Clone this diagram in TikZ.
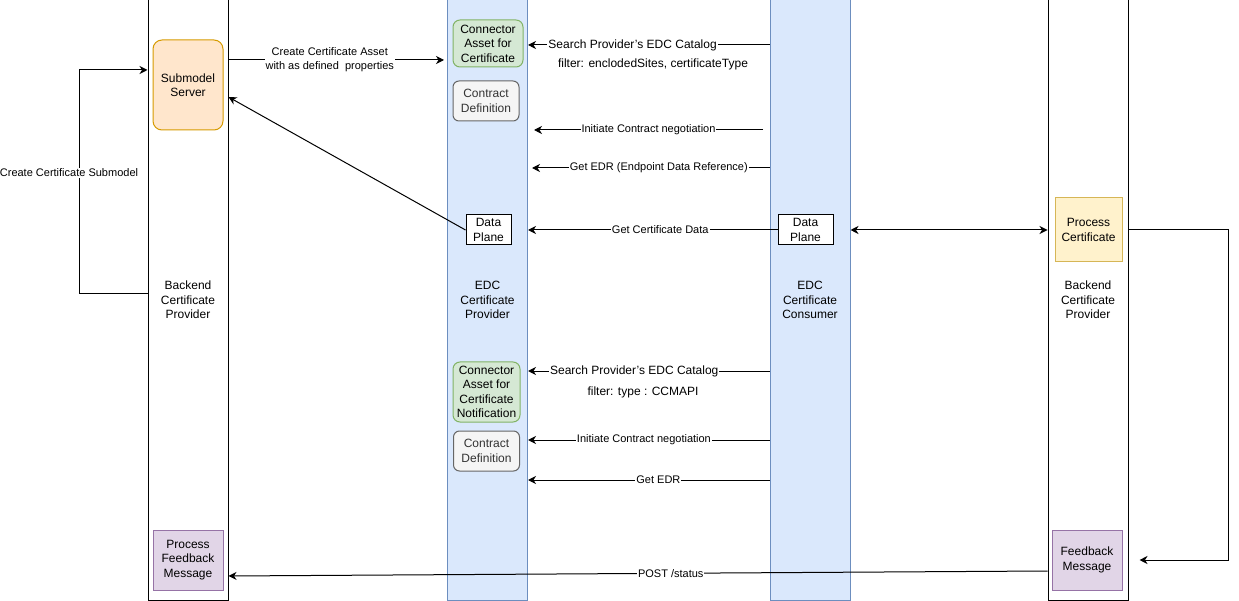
\documentclass[tikz,border=0pt]{standalone}
\usepackage{fontspec}
\setmainfont{Liberation Sans}
\usepackage{xcolor}
\usepackage{tikz}
\usetikzlibrary{arrows.meta, positioning, calc}

\definecolor{edcfill}{HTML}{DAE8FC}
\definecolor{edcdraw}{HTML}{6C8EBF}
\definecolor{assetfill}{HTML}{D5E8D4}
\definecolor{assetdraw}{HTML}{82B366}
\definecolor{contractfill}{HTML}{F5F5F5}
\definecolor{contractdraw}{HTML}{666666}
\definecolor{contracttext}{HTML}{333333}
\definecolor{smfill}{HTML}{FFE6CC}
\definecolor{smdraw}{HTML}{D79B00}
\definecolor{procfill}{HTML}{FFF2CC}
\definecolor{procdraw}{HTML}{D6B656}
\definecolor{fbfill}{HTML}{E1D5E7}
\definecolor{fbdraw}{HTML}{9673A6}

\newcommand{\boxfont}{\fontsize{12}{14.5}\selectfont}
\newcommand{\msgfont}{\fontsize{11}{14}\selectfont}
\newcommand{\catfont}{\fontsize{12}{14}\selectfont}

\begin{document}
\begin{tikzpicture}[
        x=1pt, y=-1pt,
        lifeline/.style={rectangle, draw=black, line width=1pt, fill=white, minimum width=80pt, minimum height=600pt, align=center, font=\boxfont},
        edc/.style={lifeline, draw=edcdraw, fill=edcfill},
        asset/.style={rectangle, draw=assetdraw, line width=1pt, fill=assetfill, minimum width=70pt, align=center, rounded corners=7pt, inner sep=1pt, font=\boxfont},
        contract/.style={rectangle, draw=contractdraw, line width=1pt, fill=contractfill, text=contracttext, minimum width=66pt, minimum height=40pt, align=center, rounded corners=6pt, inner sep=1pt, font=\boxfont},
        plane/.style={rectangle, draw=black, line width=1pt, fill=white, minimum height=30pt, align=center, inner sep=1pt, font=\boxfont},
        task/.style={rectangle, line width=1pt, minimum width=70pt, minimum height=60pt, align=center, inner sep=1pt, font=\boxfont},
        tip/.tip={Stealth[length=8pt, width=8pt, inset=2.5pt]},
        arrow/.style={-tip, line width=1pt},
        msg/.style={fill=white, inner sep=1pt, font=\msgfont, align=center},
        catalog/.style={msg, font=\catfont}
    ]
    \useasboundingbox (0,0) rectangle (1239,601);

    % Lifelines
    \node (backL) [lifeline] at (188,300) {Backend\\Certificate\\Provider};
    \node (provider) [edc] at (487.5,300) {EDC\\Certificate\\Provider};
    \node (consumer) [edc] at (810,300) {EDC\\Certificate\\Consumer};
    \node (backR) [lifeline] at (1088,300) {Backend\\Certificate\\Provider};

    % Backend provider
    \node (subserver) [task, draw=smdraw, fill=smfill, minimum height=90pt, rounded corners=9pt] at (188,85) {Submodel\\Server};
    \node (procfb) [task, draw=fbdraw, fill=fbfill] at (188,560) {Process\\Feedback\\Message};

    % EDC provider
    \node (asset1) [asset, minimum height=47pt] at (488,43.5) {Connector\\Asset for\\Certificate};
    \node (contract1) [contract, below=13pt of asset1.south, anchor=north, xshift=-2pt] {Contract\\Definition};
    \node (dpProv) [plane, minimum width=45pt] at (488.5,230) {Data\\Plane};
    \node (asset2) [asset, minimum width=67pt, minimum height=60pt] at (486.5,392) {Connector\\Asset for\\Certificate\\Notification};
    \node (contract2) [contract, below=8pt of asset2.south, anchor=north] {Contract\\Definition};

    % EDC consumer
    \node (dpCons) [plane, minimum width=55pt] at (805.5,230) {Data\\Plane};

    % Backend consumer side
    \node (proccert) [task, draw=procdraw, fill=procfill, minimum width=67pt, minimum height=64pt] at (1088.5,230) {Process\\Certificate};
    \node (feedback) [task, draw=fbdraw, fill=fbfill] at (1087,560) {Feedback\\Message};

    % Filter notes
    \node (filterA) [font=\catfont] at (653,64) {filter: enclodedSites, certificateType};
    \node (filterB) [font=\catfont] at (643,392) {filter: type : CCMAPI};

    % Edges
    \draw[arrow] (backL.east |- 0,60) -- node[msg, pos=0.47] {Create Certificate Asset\\with as defined\ \ properties} (444,60);

    \draw[arrow] (backL.west |- 0,294) -- (79,294) |- node[msg, pos=0.27, xshift=-10pt] {Create Certificate Submodel} (backL.west |- 0,70);

    \draw[arrow] (dpProv.west) -- (backL.east |- 0,97);

    \draw[arrow] (consumer.west |- 0,45) -- node[catalog, pos=0.567] {Search Provider's EDC Catalog} (provider.east |- 0,45);
    \draw[arrow] (763,130) -- node[msg, pos=0.5] {Initiate Contract negotiation} (534,130);
    \draw[arrow] (consumer.west |- 0,168) -- node[msg, pos=0.466] {Get EDR (Endpoint Data Reference)} (532,168);
    \draw[arrow] (dpCons.west) -- node[msg, pos=0.47] {Get Certificate Data} (provider.east |- dpCons);

    \draw[arrow, tip-tip] (consumer.east |- dpCons) -- (backR.west |- dpCons);

    \draw[arrow] (backR.east |- proccert) -- ++(100,0) |- ($(feedback.east)+(17,0)$);

    \draw[arrow] (consumer.west |- 0,371) -- node[catalog, pos=0.56] {Search Provider's EDC Catalog} (provider.east |- 0,371);
    \draw[arrow] (consumer.west |- 0,440) -- node[msg, pos=0.52] {Initiate Contract negotiation} (provider.east |- 0,440);
    \draw[arrow] (consumer.west |- 0,480) -- node[msg, pos=0.46] {Get EDR} (provider.east |- 0,480);

    \draw[arrow] (backR.west |- 0,571) -- node[msg, pos=0.46] {POST /status} (backL.east |- 0,576);

    \end{tikzpicture}
\end{document}
